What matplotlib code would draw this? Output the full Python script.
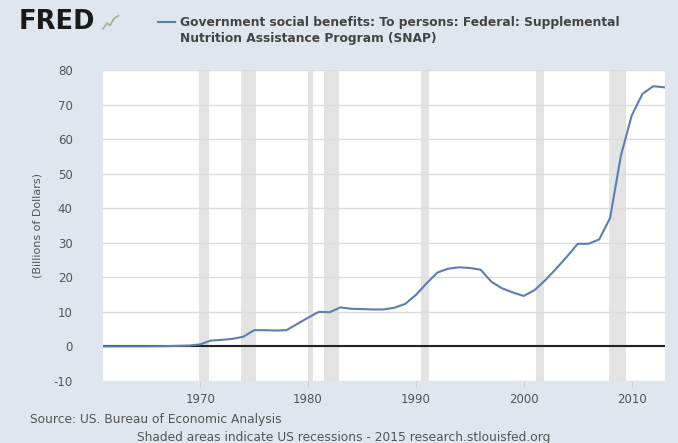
import numpy as np
import matplotlib
matplotlib.use("Agg")
import matplotlib.pyplot as plt

plt.rcParams["axes.unicode_minus"] = False

# ------------------------------------------------------------
# SNAP benefits, annual (billions of dollars)
# ------------------------------------------------------------
years = list(range(1961, 2014))
snap = [0.0, 0.01, 0.02, 0.03, 0.03, 0.06, 0.1, 0.17, 0.25, 0.6,
        1.7, 1.9, 2.2, 2.8, 4.7, 4.7, 4.6, 4.7, 6.5, 8.3,
        10.0, 9.9, 11.3, 10.9, 10.8, 10.7, 10.7, 11.2, 12.3, 14.9,
        18.3, 21.4, 22.5, 22.9, 22.7, 22.2, 18.7, 16.8, 15.6, 14.6,
        16.3, 19.2, 22.5, 26.0, 29.7, 29.7, 31.0, 37.2, 55.2, 66.8,
        73.1, 75.3, 75.0]

# recession start / end (decimal years)
rec_start = [1969.92, 1973.83, 1980.0, 1981.5, 1990.5, 2001.17, 2007.92]
rec_end = [1970.83, 1975.17, 1980.5, 1982.83, 1991.17, 2001.83, 2009.5]

yticks = [-10, 0, 10, 20, 30, 40, 50, 60, 70, 80]
xticks = [1970, 1980, 1990, 2000, 2010]

bg = "#dfe6ee"
fig = plt.figure(figsize=(6.78, 4.43), dpi=100, facecolor=bg)
ax = fig.add_axes([0.152, 0.140, 0.829, 0.702])
ax.set_facecolor("white")

for s, e in zip(rec_start, rec_end):
    ax.axvspan(s, e, color="#e3e3e3", lw=0, zorder=1)

ax.set_yticks(yticks)
ax.set_xticks(xticks)
ax.grid(axis="y", color="#dcdcdc", lw=1, zorder=0)
ax.axhline(0, color="#222222", lw=1.5, zorder=3)
ax.plot(years, snap, color="#5a7fb0", lw=1.5, zorder=4)

ax.set_xlim(1961, 2013.1)
ax.set_ylim(-10, 80)

for sp in ax.spines.values():
    sp.set_visible(False)
ax.tick_params(axis="y", length=0, pad=22, labelsize=8.5, labelcolor="#555555")
ax.tick_params(axis="x", length=4, color="#cfcfcf", labelsize=8.5,
               labelcolor="#555555", pad=5)
for lbl in ax.get_yticklabels():
    lbl.set_horizontalalignment("right")

fig.text(0.055, 0.5 * (0.140 + 0.842), "(Billions of Dollars)", rotation=90,
         ha="center", va="center", fontsize=8, color="#555555")

# header
fig.text(0.028, 0.950, "FRED", fontsize=18.5, fontweight="heavy", color="#1a1a1a",
         va="center", ha="left")
# little chart icon next to the logo
fig.lines.append(plt.Line2D([0.152, 0.158, 0.162, 0.168, 0.175],
                            [0.935, 0.948, 0.942, 0.958, 0.965],
                            transform=fig.transFigure, color="#9fb39a", lw=1.2))
fig.lines.append(plt.Line2D([0.233, 0.258], [0.950, 0.950], transform=fig.transFigure,
                            color="#5a7fb0", lw=1.5))
fig.text(0.265, 0.950, "Government social benefits: To persons: Federal: Supplemental",
         fontsize=8.8, fontweight="bold", color="#444444", va="center", ha="left")
fig.text(0.265, 0.912, "Nutrition Assistance Program (SNAP)",
         fontsize=8.8, fontweight="bold", color="#444444", va="center", ha="left")

# footer
fig.text(0.044, 0.052, "Source: US. Bureau of Economic Analysis",
         fontsize=8.8, color="#555555", va="center", ha="left")
fig.text(0.202, 0.012, "Shaded areas indicate US recessions - 2015 research.stlouisfed.org",
         fontsize=8.8, color="#555555", va="center", ha="left")

plt.savefig("out.png", dpi=100, facecolor=bg)
